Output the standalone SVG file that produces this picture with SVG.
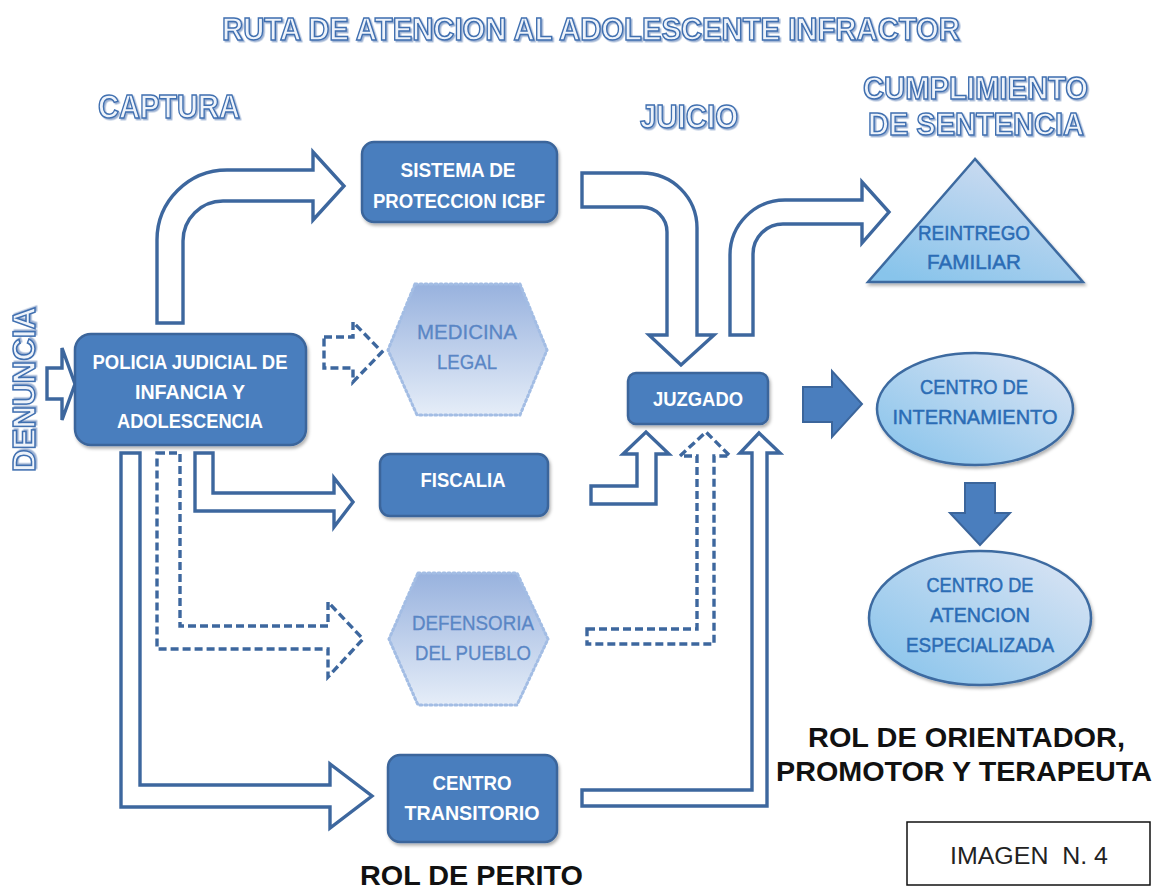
<svg xmlns="http://www.w3.org/2000/svg" width="1160" height="892" viewBox="0 0 1160 892">
<defs>
<style>
.ttl{font-family:"Liberation Sans",Arial,sans-serif;font-weight:bold;fill:#eef3fa;stroke:#3f6fb0;stroke-width:1.5;filter:url(#tsh)}
.box{fill:#4a7ebe;stroke:#3b659b;stroke-width:2.5;filter:url(#sh)}
.bt{font-family:"Liberation Sans",Arial,sans-serif;font-weight:bold;font-size:21px;fill:#ffffff;text-anchor:middle}
.hex{fill:url(#hexg);stroke:#a3bde4;stroke-width:3;stroke-dasharray:2 3;stroke-linecap:round}
.ht{font-family:"Liberation Sans",Arial,sans-serif;font-size:21px;fill:#5a86c5;stroke:#5a86c5;stroke-width:0.3;text-anchor:middle}
.ell{fill:url(#elg);stroke:#3c6aa0;stroke-width:2.5;filter:url(#sh)}
.et{font-family:"Liberation Sans",Arial,sans-serif;font-size:21px;fill:#2b6cb5;stroke:#2b6cb5;stroke-width:0.5;text-anchor:middle}
.oa{fill:#ffffff;stroke:#3d679e;stroke-width:3.4;stroke-linejoin:miter}
.da{fill:#ffffff;stroke:#3d679e;stroke-width:3.4;stroke-dasharray:8 4}
.sa{fill:#4a7ebe;stroke:#3b659b;stroke-width:2}
.blk{font-family:"Liberation Sans",Arial,sans-serif;font-weight:bold;font-size:28px;fill:#111111}
</style>
<linearGradient id="hexg" x1="0" y1="0" x2="0" y2="1">
<stop offset="0" stop-color="#98b2de"/>
<stop offset="1" stop-color="#e5edf8"/>
</linearGradient>
<linearGradient id="elg" x1="1" y1="0" x2="0" y2="1">
<stop offset="0" stop-color="#dfe6f4"/>
<stop offset="1" stop-color="#84c2eb"/>
</linearGradient>
<linearGradient id="trg" x1="0.8" y1="0" x2="0.2" y2="1">
<stop offset="0" stop-color="#d2ddf1"/>
<stop offset="1" stop-color="#88c4eb"/>
</linearGradient>
<filter id="sh" x="-10%" y="-10%" width="130%" height="140%">
<feDropShadow dx="1.5" dy="2.5" stdDeviation="1.5" flood-color="#000000" flood-opacity="0.3"/>
</filter>
<filter id="tsh" x="-5%" y="-20%" width="110%" height="150%">
<feDropShadow dx="1.5" dy="1.5" stdDeviation="0.6" flood-color="#6f8fbf" flood-opacity="0.7"/>
</filter>
</defs>
<rect width="1160" height="892" fill="#ffffff"/>

<g id="titles">
<text class="ttl" x="222" y="40" font-size="32" textLength="738" lengthAdjust="spacingAndGlyphs">RUTA DE ATENCION AL ADOLESCENTE INFRACTOR</text>
<text class="ttl" x="98" y="118" font-size="34" textLength="142" lengthAdjust="spacingAndGlyphs">CAPTURA</text>
<text class="ttl" x="640" y="128" font-size="34" textLength="98" lengthAdjust="spacingAndGlyphs">JUICIO</text>
<text class="ttl" x="863" y="99" font-size="32" textLength="225" lengthAdjust="spacingAndGlyphs">CUMPLIMIENTO</text>
<text class="ttl" x="868" y="135" font-size="32" textLength="216" lengthAdjust="spacingAndGlyphs">DE SENTENCIA</text>
<text class="ttl" transform="translate(35,472) rotate(-90)" x="0" y="0" font-size="31" textLength="165" lengthAdjust="spacingAndGlyphs">DENUNCIA</text>
</g>

<g id="connectors">
<path class="oa" d="M47 368 L62 368 L62 348 L75 384 L62 420 L62 399 L47 399 Z"/>
<path class="oa" d="M157 323 L157 240 A70 70 0 0 1 227 170 L313 170 L313 152 L344 186 L313 220 L313 201 L223 201 A40 40 0 0 0 183 241 L183 323 Z"/>
<path class="oa" d="M582 173 L642 173 A55 55 0 0 1 697 228 L697 335 L714 335 L681 365 L649 335 L667 335 L667 232 A25 25 0 0 0 642 207 L582 207 Z"/>
<path class="oa" d="M730 335 L730 255 A55 55 0 0 1 785 200 L862 200 L862 182 L889 212 L862 243 L862 224 L783 224 A30 30 0 0 0 753 254 L753 335 Z"/>
<path class="da" d="M324 337 L353 337 L353 322 L382 352 L353 382 L353 368 L324 368 Z"/>
<path class="oa" d="M195 453 L213 453 L213 493 L334 493 L334 478 L353 502 L334 527 L334 511 L195 511 Z"/>
<path class="da" d="M157 453 L180 453 L180 626 L328 626 L328 602 L363 639 L328 677 L328 649 L157 649 Z"/>
<path class="oa" d="M121 453 L140 453 L140 785 L330 785 L330 764 L372 796 L330 828 L330 807 L121 807 Z"/>
<path class="oa" d="M591 486 L637 486 L637 454 L623 454 L646 432 L669 454 L656 454 L656 504 L591 504 Z"/>
<path class="da" d="M587 629 L697 629 L697 456 L680 456 L706 432 L730 456 L714 456 L714 644 L587 644 Z"/>
<path class="oa" d="M582 790 L752 790 L752 453 L740 453 L759 433 L780 453 L767 453 L767 806 L582 806 Z"/>
<path class="sa" d="M803 387 L832 387 L832 371 L862 404 L832 437 L832 422 L803 422 Z"/>
<path class="sa" d="M965 483 L995 483 L995 513 L1010 513 L980 545 L950 513 L965 513 Z"/>
</g>

<g id="policia">
<rect class="box" x="75" y="334" width="231" height="111" rx="16"/>
<text class="bt" x="190" y="369" textLength="195" lengthAdjust="spacingAndGlyphs">POLICIA JUDICIAL DE</text>
<text class="bt" x="190" y="399" textLength="110" lengthAdjust="spacingAndGlyphs">INFANCIA Y</text>
<text class="bt" x="190" y="428" textLength="146" lengthAdjust="spacingAndGlyphs">ADOLESCENCIA</text>
</g>

<g id="sistema">
<rect class="box" x="362" y="142" width="195" height="80" rx="12"/>
<text class="bt" x="458" y="177" textLength="115" lengthAdjust="spacingAndGlyphs">SISTEMA DE</text>
<text class="bt" x="459" y="208" textLength="172" lengthAdjust="spacingAndGlyphs">PROTECCION ICBF</text>
</g>

<g id="medicina">
<polygon class="hex" points="415,284 520,284 547,350 520,415 417,415 388,350"/>
<text class="ht" x="467" y="339" textLength="100" lengthAdjust="spacingAndGlyphs">MEDICINA</text>
<text class="ht" x="467" y="369" textLength="60" lengthAdjust="spacingAndGlyphs">LEGAL</text>
</g>

<g id="fiscalia">
<rect class="box" x="380" y="454" width="168" height="62" rx="10"/>
<text class="bt" x="463" y="487" textLength="85" lengthAdjust="spacingAndGlyphs">FISCALIA</text>
</g>

<g id="defensoria">
<polygon class="hex" points="418,573 517,573 548,639 517,705 418,705 389,639"/>
<text class="ht" x="473" y="630" textLength="122" lengthAdjust="spacingAndGlyphs">DEFENSORIA</text>
<text class="ht" x="473" y="660" textLength="116" lengthAdjust="spacingAndGlyphs">DEL PUEBLO</text>
</g>

<g id="transitorio">
<rect class="box" x="388" y="755" width="169" height="87" rx="12"/>
<text class="bt" x="472" y="790" textLength="79" lengthAdjust="spacingAndGlyphs">CENTRO</text>
<text class="bt" x="472" y="820" textLength="135" lengthAdjust="spacingAndGlyphs">TRANSITORIO</text>
</g>

<g id="juzgado">
<rect class="box" x="628" y="373" width="140" height="51" rx="8"/>
<text class="bt" x="698" y="406" textLength="90" lengthAdjust="spacingAndGlyphs">JUZGADO</text>
</g>

<g id="reintrego">
<polygon points="975,159 868,282 1083,282" fill="url(#trg)" stroke="#3c6aa0" stroke-width="2.5" stroke-linejoin="miter" filter="url(#sh)"/>
<text class="et" x="974" y="240" textLength="112" lengthAdjust="spacingAndGlyphs">REINTREGO</text>
<text class="et" x="974" y="269" textLength="94" lengthAdjust="spacingAndGlyphs">FAMILIAR</text>
</g>

<g id="internamiento">
<ellipse class="ell" cx="975" cy="409" rx="98" ry="56"/>
<text class="et" x="974" y="394" textLength="108" lengthAdjust="spacingAndGlyphs">CENTRO DE</text>
<text class="et" x="975" y="424" textLength="165" lengthAdjust="spacingAndGlyphs">INTERNAMIENTO</text>
</g>

<g id="especializada">
<ellipse class="ell" cx="980" cy="618" rx="111" ry="67"/>
<text class="et" x="980" y="592" textLength="107" lengthAdjust="spacingAndGlyphs">CENTRO DE</text>
<text class="et" x="980" y="622" textLength="100" lengthAdjust="spacingAndGlyphs">ATENCION</text>
<text class="et" x="980" y="652" textLength="148" lengthAdjust="spacingAndGlyphs">ESPECIALIZADA</text>
</g>

<g id="labels">
<text class="blk" x="808" y="747" textLength="317" lengthAdjust="spacingAndGlyphs">ROL DE ORIENTADOR,</text>
<text class="blk" x="776" y="781" textLength="376" lengthAdjust="spacingAndGlyphs">PROMOTOR Y TERAPEUTA</text>
<text class="blk" x="360" y="885" textLength="223" lengthAdjust="spacingAndGlyphs">ROL DE PERITO</text>
</g>

<g id="imagen">
<rect x="907" y="822" width="243" height="63" fill="#ffffff" stroke="#111111" stroke-width="1.5"/>
<text x="950" y="864" font-family="'Liberation Sans',Arial,sans-serif" font-size="23" fill="#222222" textLength="158" lengthAdjust="spacingAndGlyphs" xml:space="preserve">IMAGEN  N. 4</text>
</g>
</svg>
